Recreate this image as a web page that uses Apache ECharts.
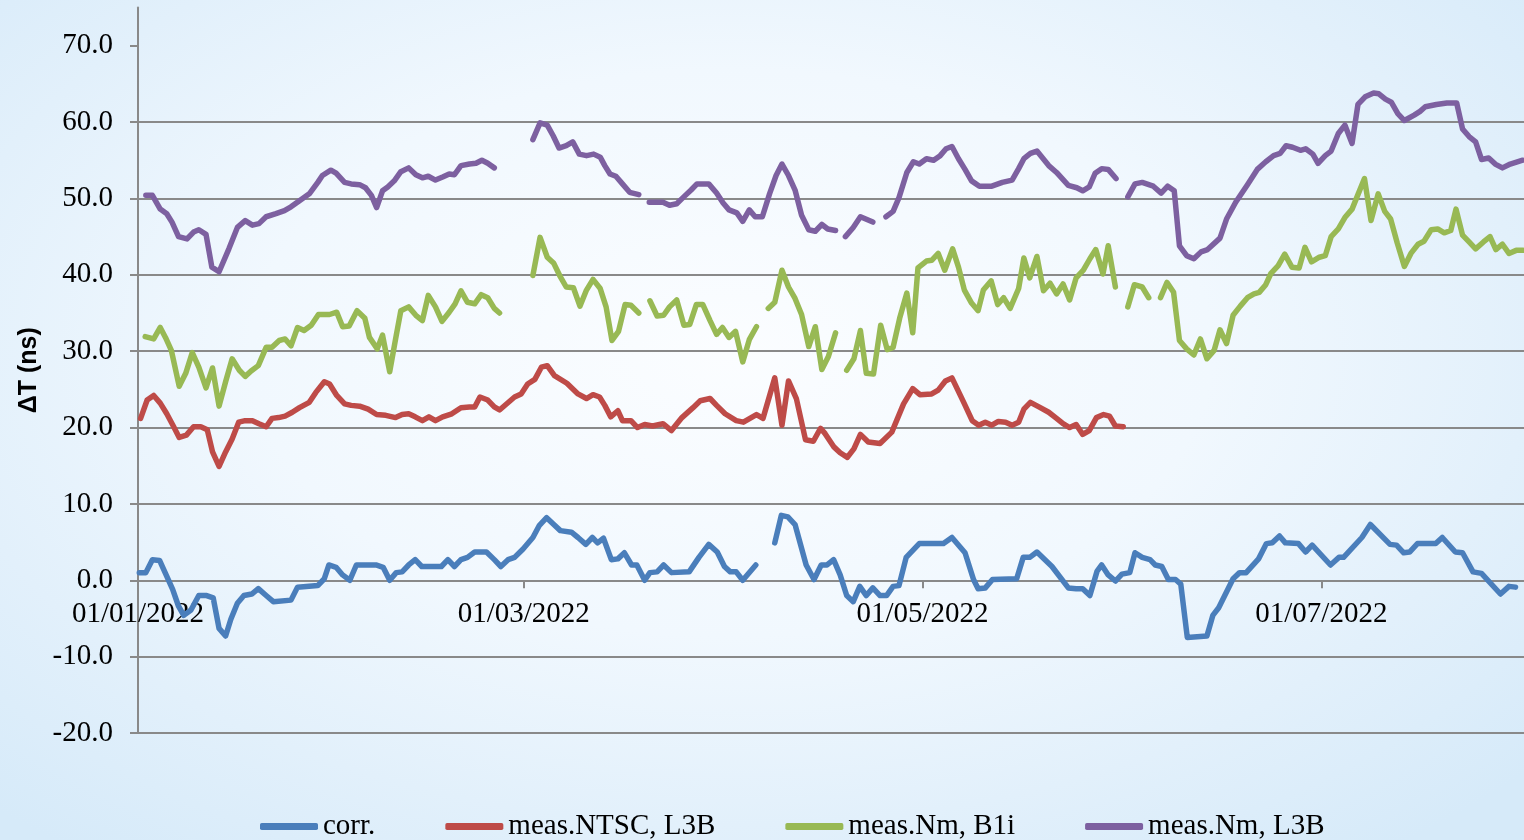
<!DOCTYPE html>
<html>
<head>
<meta charset="utf-8">
<script src="https://cdn.jsdelivr.net/npm/echarts@6/dist/echarts.min.js"></script>
<style>
  html, body { margin: 0; padding: 0; width: 1524px; height: 840px; overflow: hidden; }
  body {
    background:
      radial-gradient(ellipse 70% 75% at 48% 42%, #fbfdff 0%, #f1f8fe 45%, #e2f0fb 75%, #d6eaf9 100%);
  }
  #chart { width: 1524px; height: 840px; }
</style>
</head>
<body>
<div id="chart"></div>
<script>
// x values are day offsets from 01/01/2022 (0 = 01/01/2022); null value = gap in the line
const seriesNames = ['corr.', 'meas.NTSC, L3B', 'meas.Nm, B1i', 'meas.Nm, L3B'];
const seriesColors = ['#4A7EBB', '#BE4B48', '#98B954', '#7D60A0'];

const tickDays = [0, 59, 120, 181];
const tickLabels = ['01/01/2022', '01/03/2022', '01/05/2022', '01/07/2022'];
const yTicks = [-20, -10, 0, 10, 20, 30, 40, 50, 60, 70];

const corr = [
  [0.2,1.0],[1.2,1.0],[2.2,2.7],[3.3,2.6],[4.2,0.9],[5.3,-1.2],[6.2,-3.4],[7.0,-4.6],[8.1,-3.9],[9.3,-2.0],
  [10.5,-2.0],[11.5,-2.3],[12.4,-6.3],[13.4,-7.3],[14.2,-5.1],[15.2,-3.0],[16.2,-2.0],[17.4,-1.8],[18.4,-1.1],[19.6,-2.0],
  [20.7,-2.8],[23.4,-2.6],[24.4,-0.9],[27.5,-0.7],[28.5,0.2],[29.2,2.0],[30.3,1.7],[31.3,0.7],[32.4,0.0],[33.4,2.0],
  [36.4,2.0],[37.5,1.7],[38.5,0.0],[39.5,1.0],[40.4,1.1],[41.4,2.0],[42.4,2.7],[43.4,1.8],[46.4,1.8],[47.4,2.7],
  [48.4,1.8],[49.4,2.7],[50.4,3.0],[51.5,3.7],[53.3,3.7],[54.5,2.7],[55.5,1.8],[56.6,2.7],[57.6,3.0],[58.9,4.1],
  [60.4,5.6],[61.4,7.2],[62.5,8.2],[63.6,7.3],[64.6,6.5],[66.3,6.3],[67.3,5.6],[68.5,4.7],[69.5,5.6],[70.3,4.9],
  [71.2,5.5],[72.4,2.7],[73.4,2.8],[74.4,3.6],[75.5,2.0],[76.3,2.0],[77.5,0.0],[78.3,1.0],[79.4,1.1],[80.4,2.0],
  [81.6,1.0],[84.3,1.1],[85.8,3.0],[87.3,4.7],[88.6,3.7],[89.7,1.8],[90.6,1.1],[91.5,1.1],[92.5,0.0],[94.5,2.0],
  [96.0,null],
  [97.4,4.9],[98.4,8.5],[99.4,8.3],[100.5,7.3],[102.2,2.0],[103.4,0.1],[104.5,2.0],[105.4,2.0],[106.4,2.7],[107.4,0.7],
  [108.4,-2.0],[109.4,-2.8],[110.4,-0.8],[111.4,-2.0],[112.4,-1.0],[113.5,-2.0],[114.5,-2.0],[115.5,-0.8],[116.4,-0.7],[117.5,3.0],
  [119.5,4.8],[123.2,4.8],[124.5,5.6],[126.5,3.6],[127.8,0.1],[128.5,-1.1],[129.6,-1.0],[130.7,0.1],[134.4,0.2],[135.4,3.0],
  [136.4,3.0],[137.5,3.7],[139.8,1.8],[142.3,-1.0],[143.5,-1.1],[144.5,-1.1],[145.6,-2.0],[146.7,1.2],[147.4,2.0],[148.4,0.7],
  [149.5,-0.1],[150.5,0.8],[151.7,1.0],[152.5,3.6],[153.6,3.0],[154.8,2.7],[155.6,2.0],[156.6,1.8],[157.6,0.1],[158.7,0.1],
  [159.5,-0.5],[160.5,-7.5],[163.5,-7.3],[164.4,-4.6],[165.3,-3.6],[167.5,0.2],[168.5,1.0],[169.5,1.0],[171.4,2.8],[172.6,4.8],
  [173.5,4.9],[174.6,5.8],[175.5,4.9],[177.5,4.8],[178.6,3.7],[179.6,4.6],[182.4,2.0],[183.7,3.0],[184.4,3.0],[187.2,5.6],
  [188.5,7.3],[191.5,4.7],[192.5,4.6],[193.6,3.6],[194.5,3.7],[195.7,4.8],[198.5,4.8],[199.5,5.6],[201.5,3.7],[202.6,3.6],
  [204.2,1.1],[205.5,0.9],[208.4,-1.8],[209.7,-0.8],[210.7,-0.9]
];

const measNtscL3B = [
  [0.4,21.2],[1.4,23.6],[2.4,24.2],[3.4,23.2],[4.4,21.8],[5.4,20.2],[6.3,18.7],[7.4,19.0],[8.5,20.1],[9.6,20.1],
  [10.6,19.7],[11.4,16.8],[12.4,14.9],[13.4,16.8],[14.4,18.5],[15.4,20.7],[16.4,20.9],[17.5,20.9],[18.5,20.5],[19.6,20.1],
  [20.5,21.2],[21.5,21.3],[22.5,21.5],[23.6,22.0],[24.7,22.6],[26.2,23.3],[27.2,24.6],[28.5,26.0],[29.3,25.7],[30.4,24.2],
  [31.6,23.1],[32.6,22.9],[33.9,22.8],[35.2,22.4],[36.5,21.7],[37.9,21.6],[39.4,21.3],[40.4,21.7],[41.4,21.8],[42.4,21.4],
  [43.5,20.9],[44.5,21.4],[45.5,20.9],[46.6,21.4],[48.0,21.8],[49.4,22.6],[50.7,22.7],[51.5,22.7],[52.3,24.0],[53.5,23.6],
  [54.5,22.7],[55.3,22.3],[57.6,24.0],[58.6,24.4],[59.6,25.7],[60.7,26.3],[61.7,27.9],[62.6,28.1],[63.7,26.8],[65.6,25.8],
  [67.3,24.4],[68.6,23.8],[69.6,24.3],[70.6,24.0],[71.4,22.9],[72.3,21.4],[73.4,22.2],[74.1,20.9],[75.4,20.9],[76.4,20.0],
  [77.5,20.4],[78.7,20.2],[80.3,20.5],[81.6,19.6],[83.2,21.3],[84.9,22.6],[86.0,23.5],[87.5,23.8],[88.5,22.9],[89.8,21.8],
  [91.5,20.9],[92.6,20.7],[93.6,21.2],[94.6,21.7],[95.6,21.2],[97.4,26.5],[98.5,20.3],[99.5,26.1],[100.7,23.8],[102.1,18.4],
  [103.3,18.2],[104.4,19.9],[105.1,19.2],[106.4,17.5],[107.4,16.7],[108.5,16.1],[109.5,17.2],[110.5,19.1],[111.7,18.1],[113.5,17.9],
  [115.3,19.4],[117.1,23.1],[118.5,25.1],[119.6,24.3],[121.4,24.4],[122.4,24.9],[123.5,26.1],[124.5,26.5],[126.3,23.3],[127.6,20.9],
  [128.6,20.3],[129.6,20.7],[130.6,20.3],[131.6,20.8],[132.7,20.7],[133.7,20.3],[134.7,20.7],[135.5,22.4],[136.5,23.3],[137.8,22.7],
  [139.3,22.0],[140.5,21.2],[141.5,20.5],[142.5,20.0],[143.5,20.4],[144.5,19.1],[145.5,19.6],[146.6,21.3],[147.7,21.7],[148.6,21.5],
  [149.5,20.2],[150.7,20.1]
];

const measNmB1i = [
  [1.1,31.9],[2.4,31.6],[3.4,33.1],[4.2,31.8],[5.1,30.1],[6.3,25.4],[7.3,27.1],[8.3,29.8],[9.3,27.9],[10.4,25.2],
  [11.4,27.8],[12.4,22.8],[13.4,26.0],[14.4,29.0],[15.5,27.5],[16.4,26.7],[17.3,27.4],[18.4,28.1],[19.6,30.5],[20.5,30.5],
  [21.6,31.4],[22.5,31.6],[23.4,30.7],[24.4,33.1],[25.4,32.7],[26.5,33.4],[27.6,34.8],[29.3,34.8],[30.4,35.1],[31.3,33.2],
  [32.3,33.3],[33.5,35.3],[34.7,34.3],[35.4,31.8],[36.6,30.3],[37.4,32.1],[38.5,27.3],[39.4,31.6],[40.2,35.3],[41.4,35.8],
  [42.5,34.7],[43.5,34.0],[44.4,37.3],[45.5,35.8],[46.5,33.9],[47.6,35.1],[48.5,36.2],[49.4,37.9],[50.4,36.4],[51.5,36.2],
  [52.5,37.4],[53.5,37.0],[54.5,35.6],[55.3,35.0],
  [58.0,null],
  [60.4,39.9],[61.5,44.9],[62.6,42.3],[63.6,41.5],[64.5,39.9],[65.5,38.4],[66.6,38.3],[67.6,35.9],[68.6,38.0],[69.6,39.4],
  [70.7,38.2],[71.6,35.8],[72.5,31.4],[73.5,32.6],[74.5,36.1],[75.4,36.0],[76.6,35.0],
  [77.5,null],
  [78.3,36.6],[79.4,34.6],[80.4,34.7],[81.3,35.8],[82.4,36.7],[83.5,33.4],[84.4,33.5],[85.4,36.1],[86.4,36.1],[87.5,34.0],
  [88.5,32.2],[89.4,33.1],[90.4,31.8],[91.4,32.6],[92.5,28.6],[93.5,31.5],[94.6,33.2],
  [95.5,null],
  [96.4,35.6],[97.4,36.4],[98.5,40.6],[99.5,38.4],[100.5,36.9],[101.5,34.8],[102.6,30.6],[103.6,33.2],[104.6,27.6],[105.6,29.3],
  [106.7,32.4],
  [107.5,null],
  [108.4,27.5],[109.5,29.0],[110.5,32.7],[111.4,27.1],[112.5,27.0],[113.6,33.4],[114.6,30.2],[115.5,30.5],[116.5,34.3],[117.6,37.6],
  [118.5,32.4],[119.3,40.9],[120.6,41.8],[121.4,41.9],[122.4,42.8],[123.4,40.6],[124.6,43.4],[125.5,41.0],[126.4,38.0],[127.5,36.3],
  [128.5,35.3],[129.3,38.0],[130.5,39.2],[131.5,36.1],[132.4,37.0],[133.4,35.6],[134.7,38.2],[135.5,42.2],[136.4,39.6],[137.5,42.4],
  [138.5,37.9],[139.5,38.9],[140.5,37.5],[141.5,38.8],[142.5,36.7],[143.5,39.6],[144.6,40.6],[145.6,42.1],[146.5,43.3],[147.6,40.1],
  [148.4,43.8],[149.5,38.4],
  [150.5,null],
  [151.4,35.8],[152.4,38.7],[153.6,38.4],[154.6,37.0],
  [155.5,null],
  [156.4,37.0],[157.4,39.0],[158.4,37.7],[159.3,31.4],[160.4,30.3],[161.5,29.5],[162.5,31.6],[163.5,29.0],[164.6,30.1],[165.5,32.8],
  [166.5,31.0],[167.5,34.7],[168.6,35.9],[169.7,37.0],[170.7,37.5],[171.5,37.7],[172.5,38.7],[173.3,40.2],[174.4,41.2],[175.4,42.7],
  [176.5,41.0],[177.6,40.9],[178.5,43.6],[179.5,41.7],[180.7,42.3],[181.6,42.5],[182.5,45.0],[183.6,46.0],[184.6,47.5],[185.7,48.6],
  [186.6,50.5],[187.6,52.6],[188.6,47.1],[189.7,50.6],[190.7,48.3],[191.6,47.3],[192.6,44.2],[193.7,41.1],[194.7,42.8],[195.8,44.0],
  [196.7,44.4],[197.8,45.9],[198.8,46.0],[199.8,45.5],[200.8,45.8],[201.6,48.6],[202.6,45.2],[203.6,44.3],[204.6,43.4],[205.8,44.3],
  [206.8,45.0],[207.7,43.3],[208.7,44.0],[209.7,42.8],[210.8,43.2],[211.9,43.2]
];

const measNmL3B = [
  [1.2,50.4],[2.2,50.4],[3.4,48.6],[4.4,48.0],[5.2,46.9],[6.2,45.0],[7.5,44.7],[8.5,45.6],[9.3,45.9],[10.4,45.3],
  [11.3,41.0],[12.4,40.4],[13.9,43.4],[15.2,46.2],[16.4,47.1],[17.5,46.5],[18.5,46.7],[19.6,47.6],[21.1,48.0],[22.4,48.4],
  [23.4,48.9],[24.7,49.7],[26.2,50.6],[27.5,52.1],[28.2,53.0],[29.5,53.7],[30.3,53.3],[31.6,52.1],[32.6,51.9],[33.9,51.8],
  [34.8,51.4],[35.7,50.4],[36.5,48.8],[37.4,51.0],[38.2,51.5],[39.2,52.3],[40.2,53.5],[41.4,54.0],[42.5,53.1],[43.5,52.7],
  [44.4,52.9],[45.5,52.4],[46.6,52.8],[47.6,53.2],[48.4,53.1],[49.4,54.3],[50.7,54.5],[51.7,54.6],[52.6,55.0],[53.5,54.6],
  [54.5,54.0],
  [57.0,null],
  [60.4,57.7],[61.5,59.9],[62.6,59.6],[63.5,58.2],[64.4,56.6],[65.5,56.9],[66.5,57.4],[67.5,55.8],[68.6,55.6],[69.7,55.8],
  [70.7,55.4],[71.4,54.3],[72.2,53.2],[73.1,52.9],[74.1,51.9],[75.2,50.8],[76.6,50.5],
  [77.4,null],
  [78.2,49.5],[80.3,49.5],[81.3,49.1],[82.4,49.3],[83.6,50.3],[84.6,51.1],[85.5,51.9],[87.3,51.9],[88.5,50.7],[89.5,49.4],
  [90.4,48.5],[91.6,48.1],[92.5,47.0],[93.5,48.5],[94.4,47.6],[95.5,47.6],[96.6,50.6],[97.6,53.0],[98.5,54.5],[99.5,53.0],
  [100.5,51.1],[101.5,47.8],[102.6,45.9],[103.6,45.7],[104.6,46.6],[105.5,46.0],[106.7,45.8],
  [107.5,null],
  [108.2,45.0],[109.4,46.2],[110.5,47.6],[112.4,46.9],
  [113.4,null],
  [114.4,47.6],[115.5,48.3],[116.4,50.1],[117.6,53.4],[118.6,54.8],[119.5,54.5],[120.6,55.2],[121.7,55.0],[122.7,55.6],[123.6,56.5],
  [124.5,56.8],[125.5,55.2],[126.5,53.8],[127.5,52.3],[128.7,51.6],[130.6,51.6],[132.2,52.1],[133.7,52.4],[134.7,53.9],[135.5,55.2],
  [136.5,55.9],[137.5,56.2],[139.3,54.3],[140.5,53.4],[142.3,51.7],[143.6,51.4],[144.5,51.0],[145.5,51.5],[146.4,53.3],[147.4,53.9],
  [148.4,53.8],[149.6,52.6],
  [150.5,null],
  [151.4,50.2],[152.5,51.9],[153.6,52.1],[155.3,51.6],[156.5,50.7],[157.5,51.6],[158.5,51.0],[159.3,43.8],[160.4,42.5],[161.5,42.1],
  [162.6,43.0],[163.6,43.3],[165.5,44.8],[166.5,47.3],[167.9,49.5],[169.7,51.8],[171.2,53.8],[172.5,54.8],[173.7,55.6],[174.7,55.9],
  [175.6,56.9],[176.6,56.7],[177.8,56.3],[178.6,56.5],[179.7,55.8],[180.5,54.6],[181.6,55.6],[182.5,56.2],[183.6,58.5],[184.6,59.6],
  [185.7,57.2],[186.6,62.3],[187.7,63.3],[189.0,63.8],[189.8,63.7],[190.8,63.0],[191.7,62.6],[192.7,61.1],[193.7,60.2],[195.2,60.9],
  [196.1,61.4],[196.9,62.0],[198.6,62.3],[200.2,62.5],[201.7,62.5],[202.6,59.1],[203.6,58.1],[204.6,57.4],[205.5,55.1],[206.6,55.3],
  [207.6,54.5],[208.7,54.0],[209.9,54.5],[211.8,55.0]
];

const seriesData = [corr, measNtscL3B, measNmB1i, measNmL3B];

const Y_MIN = -20, Y_MAX = 75;
const GRID_TOP = 7.5, GRID_BOTTOM = 107, CHART_H = 840;
// move the date axis up from the plot bottom to the y = 0 line
const plotH = CHART_H - GRID_TOP - GRID_BOTTOM;
const zeroShift = -plotH * (0 - Y_MIN) / (Y_MAX - Y_MIN);

const chart = echarts.init(document.getElementById('chart'), null, { renderer: 'canvas' });
const serif = 'Liberation Serif';
const gridGray = '#898989';

chart.setOption({
  backgroundColor: 'transparent',
  animation: false,
  grid: { left: 138, right: 0, top: GRID_TOP, bottom: GRID_BOTTOM, containLabel: false },
  legend: {
    data: seriesNames,
    left: 255,
    top: 807,
    icon: 'roundRect',
    itemWidth: 58,
    itemHeight: 7,
    itemGap: 70,
    textStyle: { fontFamily: serif, fontSize: 29, color: '#000' }
  },
  xAxis: {
    type: 'value',
    position: 'bottom',
    offset: zeroShift,
    min: 0,
    max: 212,
    axisLine: { show: true, onZero: false, lineStyle: { color: gridGray, width: 2 } },
    axisTick: { show: true, inside: false, length: 8, customValues: tickDays, lineStyle: { color: gridGray, width: 2 } },
    axisLabel: {
      customValues: tickDays,
      margin: 20,
      fontFamily: serif, fontSize: 29, color: '#000',
      formatter: function (v) { const i = tickDays.indexOf(v); return i >= 0 ? tickLabels[i] : ''; }
    },
    splitLine: { show: false }
  },
  yAxis: {
    type: 'value',
    min: Y_MIN,
    max: Y_MAX,
    interval: 10,
    name: 'ΔT (ns)',
    nameLocation: 'middle',
    nameGap: 95,
    nameTextStyle: { fontFamily: 'Liberation Sans', fontWeight: 'bold', fontSize: 25, color: '#000' },
    axisLine: { show: true, onZero: false, lineStyle: { color: gridGray, width: 2 } },
    axisTick: { show: true, length: 8, customValues: yTicks, lineStyle: { color: gridGray, width: 2 } },
    axisLabel: {
      customValues: yTicks,
      margin: 25,
      fontFamily: serif, fontSize: 29, color: '#000',
      formatter: function (v) { return v.toFixed(1); }
    },
    splitLine: { show: true, showMaxLine: false, lineStyle: { color: gridGray, width: 2 } }
  },
  series: seriesNames.map(function (name, i) {
    return {
      name: name,
      type: 'line',
      data: seriesData[i],
      showSymbol: false,
      symbol: 'none',
      connectNulls: false,
      color: seriesColors[i],
      lineStyle: { width: 5.5, color: seriesColors[i], cap: 'round', join: 'round' },
      z: 2 + i
    };
  })
});
</script>
</body>
</html>
